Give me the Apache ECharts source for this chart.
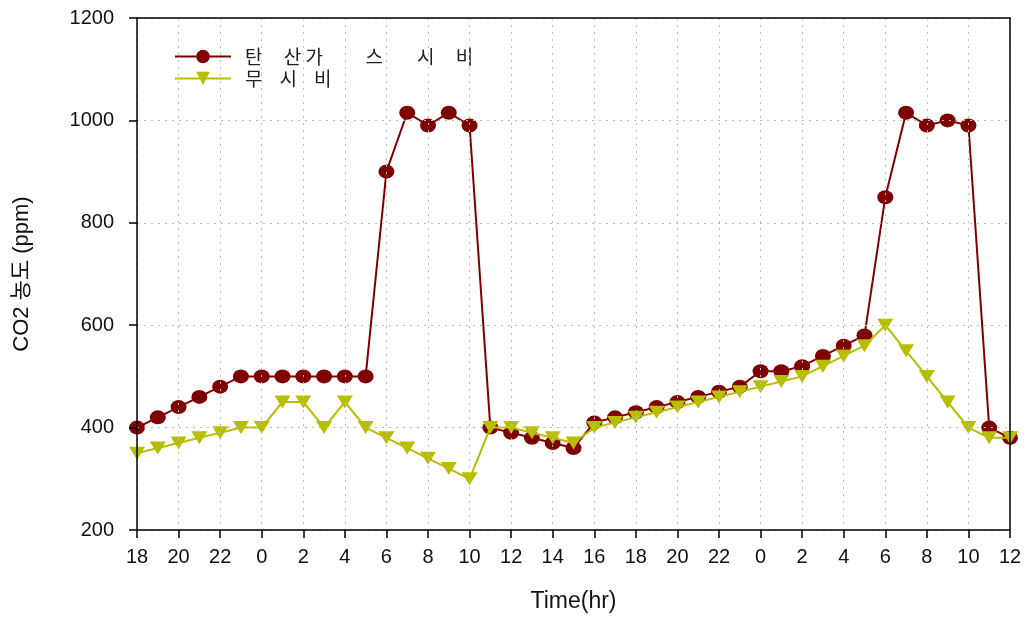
<!DOCTYPE html>
<html>
<head>
<meta charset="utf-8">
<script src="https://cdn.jsdelivr.net/npm/echarts@6/dist/echarts.min.js"></script>
<style>
  html, body { margin: 0; padding: 0; background: #fff; }
  #chart { width: 1032px; height: 618px; }
</style>
</head>
<body>
<div id="chart"></div>
<script>
// Hour of day for each hourly reading (18h of day 1 through 12h of day 3)
const hours = [18, 19, 20, 21, 22, 23,
  0, 1, 2, 3, 4, 5, 6, 7, 8, 9, 10, 11, 12, 13, 14, 15, 16, 17, 18, 19, 20, 21, 22, 23,
  0, 1, 2, 3, 4, 5, 6, 7, 8, 9, 10, 11, 12];

// CO2 concentration (ppm), CO2-enriched house
const co2Enriched = [400, 420, 440, 460, 480, 500,
  500, 500, 500, 500, 500, 500, 900, 1015, 990, 1015, 990, 400, 390, 380, 370, 360, 410, 420, 430, 440, 450, 460, 470, 480,
  510, 510, 520, 540, 560, 580, 850, 1015, 990, 1000, 990, 400, 380];

// CO2 concentration (ppm), control house without enrichment
const co2Control = [350, 360, 370, 380, 390, 400,
  400, 450, 450, 400, 450, 400, 380, 360, 340, 320, 300, 400, 400, 390, 380, 370, 400, 410, 420, 430, 440, 450, 460, 470,
  480, 490, 500, 520, 540, 560, 600, 550, 500, 450, 400, 380, 380];

const seriesNames = ['탄     산 가          스        시     비', '무    시    비'];
const yTicks = { min: 200, max: 1200, step: 200 };

const chart = echarts.init(document.getElementById('chart'));

const gridDots = { color: '#bdbdbd', type: [2, 5], width: 1 };
const frameLine = { color: '#000', width: 1.5 };
const labelFont = 'Liberation Sans Narrow, Arial Narrow, Liberation Sans, sans-serif';

chart.setOption({
  animation: false,
  backgroundColor: '#fff',
  grid: { left: 137, right: 22, top: 18, bottom: 88 },
  legend: {
    left: 169, top: 42, orient: 'vertical',
    itemWidth: 56, itemHeight: 17, itemGap: 3,
    textStyle: { fontFamily: 'Noto Sans CJK KR', fontSize: 19, color: '#222', padding: [0, 0, 0, 9] },
    data: seriesNames
  },
  xAxis: [
    {
      type: 'category',
      data: hours,
      boundaryGap: false,
      name: 'Time(hr)',
      nameLocation: 'middle',
      nameGap: 60,
      nameTextStyle: { fontFamily: labelFont, fontSize: 23, color: '#111' },
      axisLine: { lineStyle: frameLine },
      axisTick: { interval: 1, length: 8, lineStyle: frameLine },
      axisLabel: { interval: 1, margin: 17, fontFamily: labelFont, fontSize: 20, color: '#111' },
      splitLine: { show: true, interval: 1, lineStyle: gridDots },
      z: 5
    },
    {
      // top edge of the frame
      type: 'category',
      data: hours,
      boundaryGap: false,
      position: 'top',
      axisLine: { show: true, lineStyle: frameLine },
      axisTick: { show: false },
      axisLabel: { show: false },
      splitLine: { show: false },
      z: 5
    }
  ],
  yAxis: [
    {
      type: 'value',
      min: yTicks.min, max: yTicks.max, interval: yTicks.step,
      name: 'CO2 농도 (ppm)',
      nameLocation: 'middle',
      nameGap: 104,
      nameTextStyle: { fontFamily: 'Liberation Sans, Noto Sans CJK KR, sans-serif', fontSize: 22, color: '#111' },
      axisLine: { show: true, lineStyle: frameLine },
      axisTick: { show: true, length: 8, lineStyle: frameLine },
      axisLabel: {
        margin: 23, fontFamily: 'Liberation Sans, Arial, sans-serif', fontSize: 20, color: '#111',
        formatter: v => String(v)
      },
      splitLine: { show: true, lineStyle: gridDots },
      z: 5
    },
    {
      // right edge of the frame
      type: 'value',
      min: yTicks.min, max: yTicks.max, interval: yTicks.step,
      position: 'right',
      axisLine: { show: true, lineStyle: frameLine },
      axisTick: { show: false },
      axisLabel: { show: false },
      splitLine: { show: false },
      z: 5
    }
  ],
  series: [
    {
      name: seriesNames[0],
      type: 'line',
      data: co2Enriched,
      showAllSymbol: true,
      symbol: 'circle',
      symbolSize: [16, 14],
      itemStyle: { color: '#7f0000' },
      lineStyle: { color: '#7f0000', width: 2 },
      z: 2
    },
    {
      name: seriesNames[1],
      type: 'line',
      data: co2Control,
      showAllSymbol: true,
      symbol: 'triangle',
      symbolRotate: 180,
      symbolSize: [16, 13],
      itemStyle: { color: '#b8bd00' },
      lineStyle: { color: '#b8bd00', width: 2 },
      z: 3
    }
  ]
});
</script>
</body>
</html>
